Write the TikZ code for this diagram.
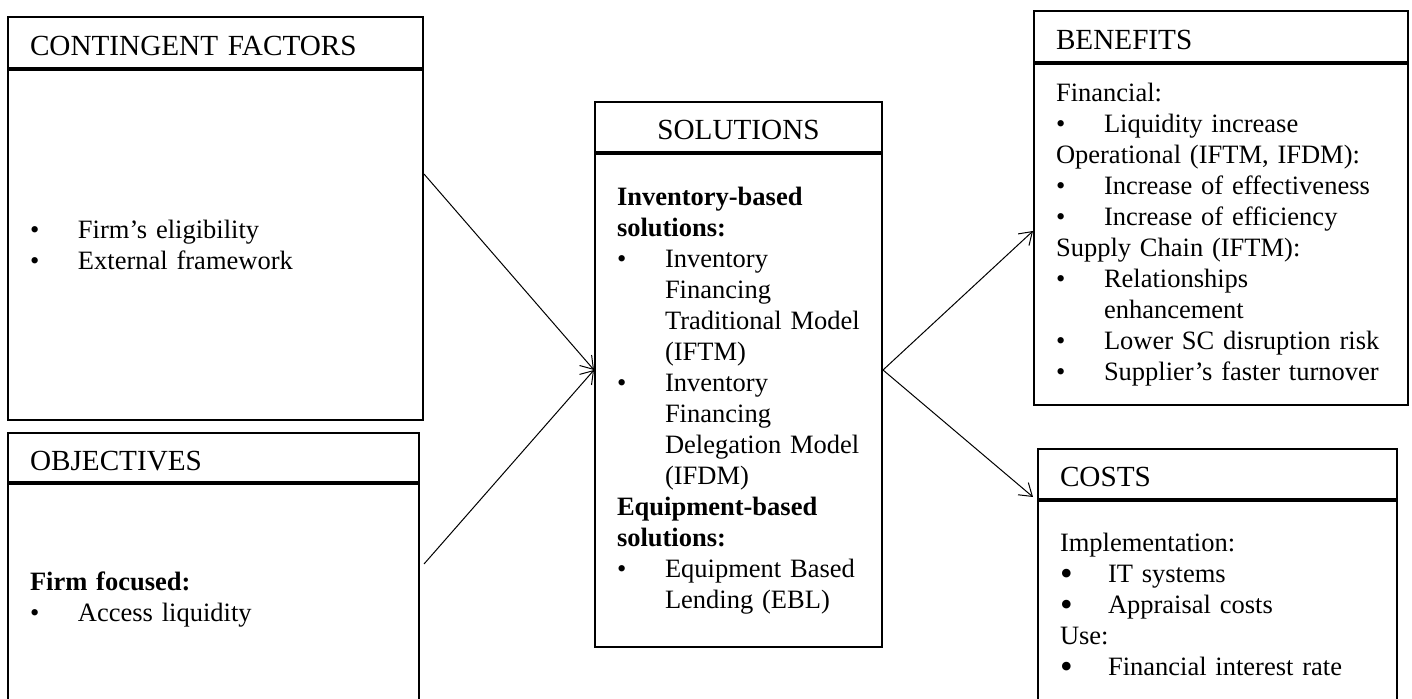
\documentclass[tikz,border=0pt]{standalone}
\usepackage{fontspec}
\setmainfont{Liberation Serif}
\usetikzlibrary{arrows.meta, positioning}

% list helpers
\newcommand{\bitem}[1]{\makebox[24pt][l]{\textbullet}#1}
\newcommand{\bcont}[1]{\hspace*{24pt}#1}
\newcommand{\cbitem}[1]{\makebox[24pt][l]{\raisebox{-1.3pt}[0pt][0pt]{\fontsize{18}{15}\selectfont\textbullet}}#1}

\begin{document}
\begin{tikzpicture}[x=0.5pt, y=-0.5pt,
  head/.style={draw, line width=1pt, anchor=north west, inner xsep=11pt, inner ysep=0pt, text height=13pt, text depth=0pt, font=\fontsize{14.6}{16}\selectfont},
  body/.style={draw, line width=1pt, inner xsep=11pt, inner ysep=0pt, align=left, font=\fontsize{13.25}{15.5}\selectfont},
  link/.style={line width=0.5pt, -{Straight Barb[length=6pt, width=8pt]}}]
  \path[use as bounding box, clip] (0,0) rectangle (1412,699);

  % left column
  \node[head, text width=185.5pt, minimum height=25.5pt, align=left] (cfhead) at (7,16) {CONTINGENT FACTORS};
  \node[body, text width=185.5pt, minimum height=175pt, below=0pt of cfhead.south west, anchor=north west] (cfbody) {\bitem{Firm’s eligibility}\\ \bitem{External framework}};

  \node[head, text width=183.5pt, minimum height=24.5pt, align=left] (objhead) at (7,432) {OBJECTIVES};
  \node[body, text width=183.5pt, minimum height=116pt, below=0pt of objhead.south west, anchor=north west] (objbody) {\textbf{Firm focused:}\\ \bitem{Access liquidity}};

  % middle
  \node[head, text width=121.5pt, minimum height=25pt, align=center] (solhead) at (594,101) {SOLUTIONS};
  \node[body, text width=121.5pt, minimum height=246.5pt, below=0pt of solhead.south west, anchor=north west] (solbody) {\textbf{Inventory-based}\\
    \textbf{solutions:}\\
    \bitem{Inventory}\\
    \bcont{Financing}\\
    \bcont{Traditional~Model}\\
    \bcont{(IFTM)}\\
    \bitem{Inventory}\\
    \bcont{Financing}\\
    \bcont{Delegation~Model}\\
    \bcont{(IFDM)}\\
    \textbf{Equipment-based}\\
    \textbf{solutions:}\\
    \bitem{Equipment~Based}\\
    \bcont{Lending~(EBL)}};

  % right column
  \node[head, text width=165pt, minimum height=25.5pt, align=left] (benhead) at (1033,10) {BENEFITS};
  \node[body, text width=165pt, minimum height=170.5pt, below=0pt of benhead.south west, anchor=north west] (benbody) {Financial:\\
    \bitem{Liquidity increase}\\
    Operational (IFTM, IFDM):\\
    \bitem{Increase of effectiveness}\\
    \bitem{Increase of efficiency}\\
    Supply Chain (IFTM):\\
    \bitem{Relationships}\\
    \bcont{enhancement}\\
    \bitem{Lower SC disruption risk}\\
    \bitem{Supplier’s faster turnover}};

  \node[head, text width=157.5pt, minimum height=25pt, align=left] (coshead) at (1037,448) {COSTS};
  \node[body, text width=157.5pt, minimum height=103.5pt, below=0pt of coshead.south west, anchor=north west] (cosbody) {Implementation:\\
    \cbitem{IT systems}\\
    \cbitem{Appraisal costs}\\
    Use:\\
    \cbitem{Financial interest rate}};

  \draw[link] ([yshift=35.5pt]cfbody.east) -- ([yshift=15.25pt]solbody.west);
  \draw[link] ([xshift=2pt, yshift=18pt]objbody.east) -- ([yshift=15.25pt]solbody.west);
  \draw[link] ([yshift=15.25pt]solbody.east) -- ([yshift=1.75pt]benbody.west);
  \draw[link] ([yshift=15.25pt]solbody.east) -- ([xshift=-2pt, yshift=1.5pt]coshead.south west);
\end{tikzpicture}
\end{document}
